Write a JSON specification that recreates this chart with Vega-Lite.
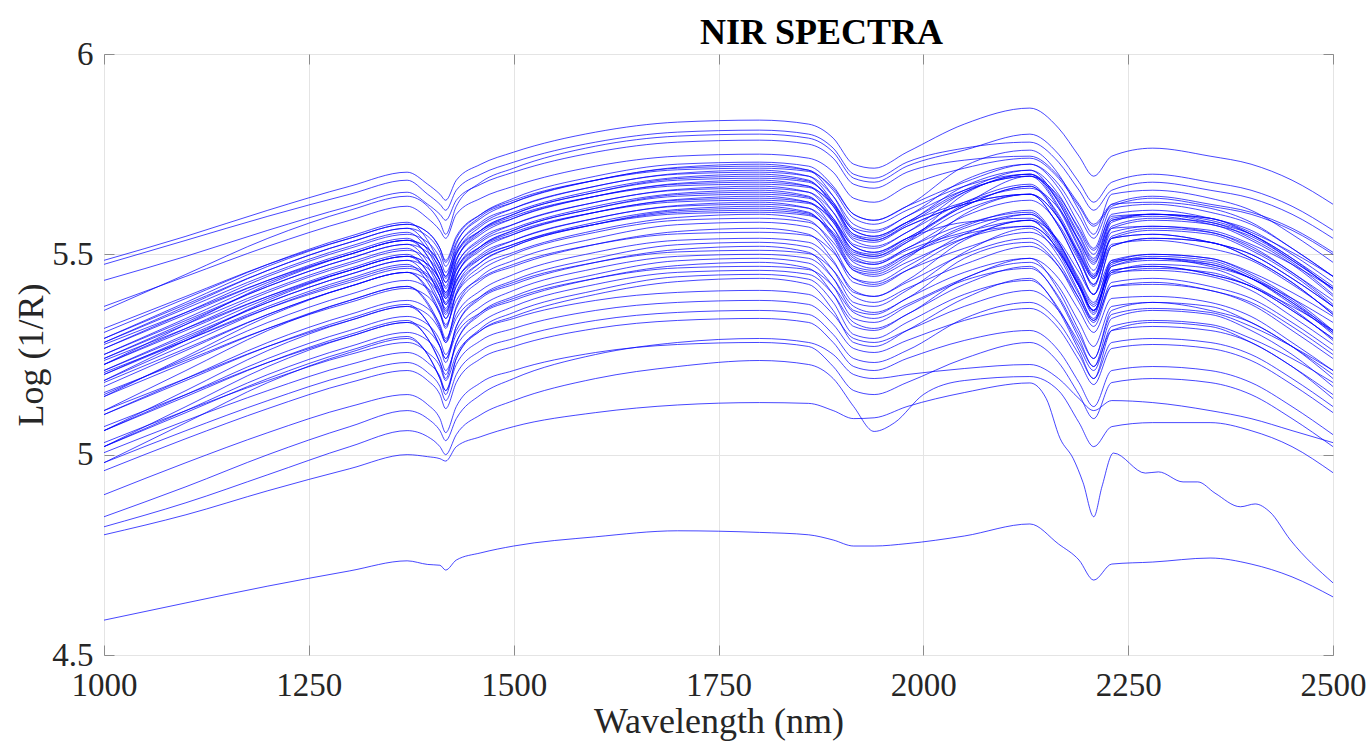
{
"$schema": "https://vega.github.io/schema/vega-lite/v6.json",
"width": 1229, "height": 601,
"autosize": {"type": "none"},
"padding": {"left": 104, "top": 54, "right": 37, "bottom": 90},
"background": "white",
"title": {"text": "NIR SPECTRA", "font": "Liberation Serif", "fontSize": 36, "fontWeight": "bold", "color": "#000000", "anchor": "middle", "frame": "group", "dx": 103, "baseline": "alphabetic", "offset": -42},
"datasets": {"spectra": [
{"s":1,"w":1000,"v":5.485},{"s":1,"w":1100,"v":5.545},{"s":1,"w":1200,"v":5.61},{"s":1,"w":1300,"v":5.67},{"s":1,"w":1370,"v":5.705},{"s":1,"w":1395,"v":5.675},{"s":1,"w":1410,"v":5.65},{"s":1,"w":1417,"v":5.635},{"s":1,"w":1430,"v":5.685},{"s":1,"w":1460,"v":5.725},{"s":1,"w":1500,"v":5.755},{"s":1,"w":1600,"v":5.805},{"s":1,"w":1700,"v":5.83},{"s":1,"w":1800,"v":5.835},{"s":1,"w":1860,"v":5.825},{"s":1,"w":1890,"v":5.79},{"s":1,"w":1915,"v":5.725},{"s":1,"w":1940,"v":5.715},{"s":1,"w":1980,"v":5.755},{"s":1,"w":2050,"v":5.825},{"s":1,"w":2130,"v":5.865},{"s":1,"w":2165,"v":5.815},{"s":1,"w":2190,"v":5.745},{"s":1,"w":2208,"v":5.695},{"s":1,"w":2230,"v":5.745},{"s":1,"w":2280,"v":5.765},{"s":1,"w":2350,"v":5.745},{"s":1,"w":2400,"v":5.725},{"s":1,"w":2450,"v":5.685},{"s":1,"w":2500,"v":5.625},
{"s":2,"w":1000,"v":5.475},{"s":2,"w":1100,"v":5.535},{"s":2,"w":1200,"v":5.595},{"s":2,"w":1300,"v":5.65},{"s":2,"w":1370,"v":5.685},{"s":2,"w":1395,"v":5.65},{"s":2,"w":1410,"v":5.625},{"s":2,"w":1417,"v":5.61},{"s":2,"w":1430,"v":5.66},{"s":2,"w":1460,"v":5.7},{"s":2,"w":1500,"v":5.73},{"s":2,"w":1600,"v":5.78},{"s":2,"w":1700,"v":5.805},{"s":2,"w":1800,"v":5.81},{"s":2,"w":1860,"v":5.8},{"s":2,"w":1890,"v":5.765},{"s":2,"w":1915,"v":5.7},{"s":2,"w":1940,"v":5.69},{"s":2,"w":1980,"v":5.73},{"s":2,"w":2050,"v":5.765},{"s":2,"w":2130,"v":5.78},{"s":2,"w":2165,"v":5.73},{"s":2,"w":2190,"v":5.66},{"s":2,"w":2208,"v":5.61},{"s":2,"w":2230,"v":5.66},{"s":2,"w":2280,"v":5.68},{"s":2,"w":2350,"v":5.66},{"s":2,"w":2400,"v":5.64},{"s":2,"w":2450,"v":5.6},{"s":2,"w":2500,"v":5.54},
{"s":3,"w":1000,"v":5.36},{"s":3,"w":1100,"v":5.45},{"s":3,"w":1200,"v":5.54},{"s":3,"w":1300,"v":5.61},{"s":3,"w":1370,"v":5.645},{"s":3,"w":1395,"v":5.62},{"s":3,"w":1410,"v":5.58},{"s":3,"w":1417,"v":5.55},{"s":3,"w":1430,"v":5.62},{"s":3,"w":1460,"v":5.68},{"s":3,"w":1500,"v":5.715},{"s":3,"w":1600,"v":5.77},{"s":3,"w":1700,"v":5.795},{"s":3,"w":1800,"v":5.8},{"s":3,"w":1860,"v":5.79},{"s":3,"w":1890,"v":5.755},{"s":3,"w":1915,"v":5.69},{"s":3,"w":1940,"v":5.68},{"s":3,"w":1980,"v":5.72},{"s":3,"w":2050,"v":5.76},{"s":3,"w":2130,"v":5.8},{"s":3,"w":2165,"v":5.75},{"s":3,"w":2190,"v":5.68},{"s":3,"w":2208,"v":5.63},{"s":3,"w":2230,"v":5.68},{"s":3,"w":2280,"v":5.7},{"s":3,"w":2350,"v":5.68},{"s":3,"w":2400,"v":5.66},{"s":3,"w":2450,"v":5.62},{"s":3,"w":2500,"v":5.56},
{"s":4,"w":1000,"v":5.435},{"s":4,"w":1100,"v":5.495},{"s":4,"w":1200,"v":5.56},{"s":4,"w":1300,"v":5.62},{"s":4,"w":1370,"v":5.655},{"s":4,"w":1395,"v":5.625},{"s":4,"w":1410,"v":5.6},{"s":4,"w":1417,"v":5.585},{"s":4,"w":1430,"v":5.635},{"s":4,"w":1460,"v":5.675},{"s":4,"w":1500,"v":5.705},{"s":4,"w":1600,"v":5.755},{"s":4,"w":1700,"v":5.78},{"s":4,"w":1800,"v":5.785},{"s":4,"w":1860,"v":5.775},{"s":4,"w":1890,"v":5.74},{"s":4,"w":1915,"v":5.675},{"s":4,"w":1940,"v":5.665},{"s":4,"w":1980,"v":5.705},{"s":4,"w":2050,"v":5.735},{"s":4,"w":2130,"v":5.745},{"s":4,"w":2165,"v":5.695},{"s":4,"w":2190,"v":5.625},{"s":4,"w":2208,"v":5.575},{"s":4,"w":2230,"v":5.625},{"s":4,"w":2280,"v":5.645},{"s":4,"w":2350,"v":5.625},{"s":4,"w":2400,"v":5.605},{"s":4,"w":2450,"v":5.565},{"s":4,"w":2500,"v":5.505},
{"s":5,"w":1000,"v":5.37},{"s":5,"w":1100,"v":5.445},{"s":5,"w":1200,"v":5.52},{"s":5,"w":1300,"v":5.585},{"s":5,"w":1370,"v":5.62},{"s":5,"w":1395,"v":5.59},{"s":5,"w":1410,"v":5.56},{"s":5,"w":1417,"v":5.54},{"s":5,"w":1430,"v":5.6},{"s":5,"w":1460,"v":5.64},{"s":5,"w":1500,"v":5.67},{"s":5,"w":1600,"v":5.72},{"s":5,"w":1700,"v":5.745},{"s":5,"w":1800,"v":5.75},{"s":5,"w":1860,"v":5.74},{"s":5,"w":1890,"v":5.705},{"s":5,"w":1915,"v":5.64},{"s":5,"w":1940,"v":5.63},{"s":5,"w":1980,"v":5.67},{"s":5,"w":2050,"v":5.715},{"s":5,"w":2130,"v":5.74},{"s":5,"w":2165,"v":5.69},{"s":5,"w":2190,"v":5.62},{"s":5,"w":2208,"v":5.57},{"s":5,"w":2230,"v":5.62},{"s":5,"w":2280,"v":5.64},{"s":5,"w":2350,"v":5.62},{"s":5,"w":2400,"v":5.6},{"s":5,"w":2450,"v":5.56},{"s":5,"w":2500,"v":5.5},
{"s":6,"w":1000,"v":5.29},{"s":6,"w":1100,"v":5.38},{"s":6,"w":1200,"v":5.47},{"s":6,"w":1300,"v":5.54},{"s":6,"w":1370,"v":5.575},{"s":6,"w":1395,"v":5.555},{"s":6,"w":1410,"v":5.515},{"s":6,"w":1417,"v":5.48},{"s":6,"w":1430,"v":5.54},{"s":6,"w":1460,"v":5.6},{"s":6,"w":1500,"v":5.64},{"s":6,"w":1600,"v":5.695},{"s":6,"w":1700,"v":5.725},{"s":6,"w":1800,"v":5.73},{"s":6,"w":1860,"v":5.72},{"s":6,"w":1890,"v":5.67},{"s":6,"w":1915,"v":5.6},{"s":6,"w":1940,"v":5.585},{"s":6,"w":1980,"v":5.62},{"s":6,"w":2050,"v":5.72},{"s":6,"w":2130,"v":5.76},{"s":6,"w":2165,"v":5.7},{"s":6,"w":2190,"v":5.61},{"s":6,"w":2208,"v":5.55},{"s":6,"w":2230,"v":5.65},{"s":6,"w":2280,"v":5.66},{"s":6,"w":2350,"v":5.64},{"s":6,"w":2400,"v":5.61},{"s":6,"w":2450,"v":5.55},{"s":6,"w":2500,"v":5.48},
{"s":7,"w":1000,"v":5.305},{"s":7,"w":1100,"v":5.39},{"s":7,"w":1200,"v":5.475},{"s":7,"w":1300,"v":5.545},{"s":7,"w":1370,"v":5.58},{"s":7,"w":1395,"v":5.535},{"s":7,"w":1410,"v":5.475},{"s":7,"w":1417,"v":5.445},{"s":7,"w":1430,"v":5.525},{"s":7,"w":1460,"v":5.595},{"s":7,"w":1500,"v":5.63},{"s":7,"w":1600,"v":5.685},{"s":7,"w":1700,"v":5.717},{"s":7,"w":1800,"v":5.725},{"s":7,"w":1860,"v":5.71},{"s":7,"w":1890,"v":5.645},{"s":7,"w":1915,"v":5.565},{"s":7,"w":1940,"v":5.555},{"s":7,"w":1980,"v":5.595},{"s":7,"w":2050,"v":5.66},{"s":7,"w":2130,"v":5.695},{"s":7,"w":2165,"v":5.615},{"s":7,"w":2190,"v":5.515},{"s":7,"w":2208,"v":5.445},{"s":7,"w":2230,"v":5.565},{"s":7,"w":2280,"v":5.585},{"s":7,"w":2350,"v":5.575},{"s":7,"w":2400,"v":5.535},{"s":7,"w":2450,"v":5.475},{"s":7,"w":2500,"v":5.395},
{"s":8,"w":1000,"v":5.28},{"s":8,"w":1100,"v":5.37},{"s":8,"w":1200,"v":5.46},{"s":8,"w":1300,"v":5.53},{"s":8,"w":1370,"v":5.565},{"s":8,"w":1395,"v":5.545},{"s":8,"w":1410,"v":5.505},{"s":8,"w":1417,"v":5.47},{"s":8,"w":1430,"v":5.53},{"s":8,"w":1460,"v":5.59},{"s":8,"w":1500,"v":5.63},{"s":8,"w":1600,"v":5.685},{"s":8,"w":1700,"v":5.715},{"s":8,"w":1800,"v":5.72},{"s":8,"w":1860,"v":5.71},{"s":8,"w":1890,"v":5.66},{"s":8,"w":1915,"v":5.59},{"s":8,"w":1940,"v":5.575},{"s":8,"w":1980,"v":5.61},{"s":8,"w":2050,"v":5.67},{"s":8,"w":2130,"v":5.7},{"s":8,"w":2165,"v":5.64},{"s":8,"w":2190,"v":5.55},{"s":8,"w":2208,"v":5.49},{"s":8,"w":2230,"v":5.59},{"s":8,"w":2280,"v":5.6},{"s":8,"w":2350,"v":5.58},{"s":8,"w":2400,"v":5.55},{"s":8,"w":2450,"v":5.49},{"s":8,"w":2500,"v":5.42},
{"s":9,"w":1000,"v":5.29},{"s":9,"w":1100,"v":5.375},{"s":9,"w":1200,"v":5.46},{"s":9,"w":1300,"v":5.53},{"s":9,"w":1370,"v":5.565},{"s":9,"w":1395,"v":5.52},{"s":9,"w":1410,"v":5.46},{"s":9,"w":1417,"v":5.43},{"s":9,"w":1430,"v":5.51},{"s":9,"w":1460,"v":5.58},{"s":9,"w":1500,"v":5.615},{"s":9,"w":1600,"v":5.67},{"s":9,"w":1700,"v":5.702},{"s":9,"w":1800,"v":5.71},{"s":9,"w":1860,"v":5.695},{"s":9,"w":1890,"v":5.63},{"s":9,"w":1915,"v":5.55},{"s":9,"w":1940,"v":5.54},{"s":9,"w":1980,"v":5.58},{"s":9,"w":2050,"v":5.66},{"s":9,"w":2130,"v":5.71},{"s":9,"w":2165,"v":5.63},{"s":9,"w":2190,"v":5.53},{"s":9,"w":2208,"v":5.46},{"s":9,"w":2230,"v":5.58},{"s":9,"w":2280,"v":5.6},{"s":9,"w":2350,"v":5.59},{"s":9,"w":2400,"v":5.55},{"s":9,"w":2450,"v":5.49},{"s":9,"w":2500,"v":5.41},
{"s":10,"w":1000,"v":5.265},{"s":10,"w":1100,"v":5.355},{"s":10,"w":1200,"v":5.445},{"s":10,"w":1300,"v":5.515},{"s":10,"w":1370,"v":5.55},{"s":10,"w":1395,"v":5.53},{"s":10,"w":1410,"v":5.49},{"s":10,"w":1417,"v":5.455},{"s":10,"w":1430,"v":5.515},{"s":10,"w":1460,"v":5.575},{"s":10,"w":1500,"v":5.615},{"s":10,"w":1600,"v":5.67},{"s":10,"w":1700,"v":5.7},{"s":10,"w":1800,"v":5.705},{"s":10,"w":1860,"v":5.695},{"s":10,"w":1890,"v":5.645},{"s":10,"w":1915,"v":5.575},{"s":10,"w":1940,"v":5.56},{"s":10,"w":1980,"v":5.595},{"s":10,"w":2050,"v":5.685},{"s":10,"w":2130,"v":5.725},{"s":10,"w":2165,"v":5.665},{"s":10,"w":2190,"v":5.575},{"s":10,"w":2208,"v":5.515},{"s":10,"w":2230,"v":5.615},{"s":10,"w":2280,"v":5.625},{"s":10,"w":2350,"v":5.605},{"s":10,"w":2400,"v":5.575},{"s":10,"w":2450,"v":5.515},{"s":10,"w":2500,"v":5.445},
{"s":11,"w":1000,"v":5.28},{"s":11,"w":1100,"v":5.365},{"s":11,"w":1200,"v":5.45},{"s":11,"w":1300,"v":5.52},{"s":11,"w":1370,"v":5.555},{"s":11,"w":1395,"v":5.51},{"s":11,"w":1410,"v":5.45},{"s":11,"w":1417,"v":5.42},{"s":11,"w":1430,"v":5.5},{"s":11,"w":1460,"v":5.57},{"s":11,"w":1500,"v":5.605},{"s":11,"w":1600,"v":5.66},{"s":11,"w":1700,"v":5.692},{"s":11,"w":1800,"v":5.7},{"s":11,"w":1860,"v":5.685},{"s":11,"w":1890,"v":5.62},{"s":11,"w":1915,"v":5.54},{"s":11,"w":1940,"v":5.53},{"s":11,"w":1980,"v":5.57},{"s":11,"w":2050,"v":5.625},{"s":11,"w":2130,"v":5.65},{"s":11,"w":2165,"v":5.57},{"s":11,"w":2190,"v":5.47},{"s":11,"w":2208,"v":5.4},{"s":11,"w":2230,"v":5.52},{"s":11,"w":2280,"v":5.54},{"s":11,"w":2350,"v":5.53},{"s":11,"w":2400,"v":5.49},{"s":11,"w":2450,"v":5.43},{"s":11,"w":2500,"v":5.35},
{"s":12,"w":1000,"v":5.25},{"s":12,"w":1100,"v":5.34},{"s":12,"w":1200,"v":5.43},{"s":12,"w":1300,"v":5.5},{"s":12,"w":1370,"v":5.535},{"s":12,"w":1395,"v":5.515},{"s":12,"w":1410,"v":5.475},{"s":12,"w":1417,"v":5.44},{"s":12,"w":1430,"v":5.5},{"s":12,"w":1460,"v":5.56},{"s":12,"w":1500,"v":5.6},{"s":12,"w":1600,"v":5.655},{"s":12,"w":1700,"v":5.685},{"s":12,"w":1800,"v":5.69},{"s":12,"w":1860,"v":5.68},{"s":12,"w":1890,"v":5.63},{"s":12,"w":1915,"v":5.56},{"s":12,"w":1940,"v":5.545},{"s":12,"w":1980,"v":5.58},{"s":12,"w":2050,"v":5.67},{"s":12,"w":2130,"v":5.71},{"s":12,"w":2165,"v":5.65},{"s":12,"w":2190,"v":5.56},{"s":12,"w":2208,"v":5.5},{"s":12,"w":2230,"v":5.6},{"s":12,"w":2280,"v":5.61},{"s":12,"w":2350,"v":5.59},{"s":12,"w":2400,"v":5.56},{"s":12,"w":2450,"v":5.5},{"s":12,"w":2500,"v":5.43},
{"s":13,"w":1000,"v":5.265},{"s":13,"w":1100,"v":5.35},{"s":13,"w":1200,"v":5.435},{"s":13,"w":1300,"v":5.505},{"s":13,"w":1370,"v":5.54},{"s":13,"w":1395,"v":5.495},{"s":13,"w":1410,"v":5.435},{"s":13,"w":1417,"v":5.405},{"s":13,"w":1430,"v":5.485},{"s":13,"w":1460,"v":5.555},{"s":13,"w":1500,"v":5.59},{"s":13,"w":1600,"v":5.645},{"s":13,"w":1700,"v":5.677},{"s":13,"w":1800,"v":5.685},{"s":13,"w":1860,"v":5.67},{"s":13,"w":1890,"v":5.605},{"s":13,"w":1915,"v":5.525},{"s":13,"w":1940,"v":5.515},{"s":13,"w":1980,"v":5.555},{"s":13,"w":2050,"v":5.63},{"s":13,"w":2130,"v":5.675},{"s":13,"w":2165,"v":5.595},{"s":13,"w":2190,"v":5.495},{"s":13,"w":2208,"v":5.425},{"s":13,"w":2230,"v":5.545},{"s":13,"w":2280,"v":5.565},{"s":13,"w":2350,"v":5.555},{"s":13,"w":2400,"v":5.515},{"s":13,"w":2450,"v":5.455},{"s":13,"w":2500,"v":5.375},
{"s":14,"w":1000,"v":5.24},{"s":14,"w":1100,"v":5.33},{"s":14,"w":1200,"v":5.42},{"s":14,"w":1300,"v":5.49},{"s":14,"w":1370,"v":5.525},{"s":14,"w":1395,"v":5.505},{"s":14,"w":1410,"v":5.465},{"s":14,"w":1417,"v":5.43},{"s":14,"w":1430,"v":5.49},{"s":14,"w":1460,"v":5.55},{"s":14,"w":1500,"v":5.59},{"s":14,"w":1600,"v":5.645},{"s":14,"w":1700,"v":5.675},{"s":14,"w":1800,"v":5.68},{"s":14,"w":1860,"v":5.67},{"s":14,"w":1890,"v":5.62},{"s":14,"w":1915,"v":5.55},{"s":14,"w":1940,"v":5.535},{"s":14,"w":1980,"v":5.57},{"s":14,"w":2050,"v":5.625},{"s":14,"w":2130,"v":5.65},{"s":14,"w":2165,"v":5.59},{"s":14,"w":2190,"v":5.5},{"s":14,"w":2208,"v":5.44},{"s":14,"w":2230,"v":5.54},{"s":14,"w":2280,"v":5.55},{"s":14,"w":2350,"v":5.53},{"s":14,"w":2400,"v":5.5},{"s":14,"w":2450,"v":5.44},{"s":14,"w":2500,"v":5.37},
{"s":15,"w":1000,"v":5.25},{"s":15,"w":1100,"v":5.335},{"s":15,"w":1200,"v":5.42},{"s":15,"w":1300,"v":5.49},{"s":15,"w":1370,"v":5.525},{"s":15,"w":1395,"v":5.48},{"s":15,"w":1410,"v":5.42},{"s":15,"w":1417,"v":5.39},{"s":15,"w":1430,"v":5.47},{"s":15,"w":1460,"v":5.54},{"s":15,"w":1500,"v":5.575},{"s":15,"w":1600,"v":5.63},{"s":15,"w":1700,"v":5.662},{"s":15,"w":1800,"v":5.67},{"s":15,"w":1860,"v":5.655},{"s":15,"w":1890,"v":5.59},{"s":15,"w":1915,"v":5.51},{"s":15,"w":1940,"v":5.5},{"s":15,"w":1980,"v":5.54},{"s":15,"w":2050,"v":5.62},{"s":15,"w":2130,"v":5.67},{"s":15,"w":2165,"v":5.59},{"s":15,"w":2190,"v":5.49},{"s":15,"w":2208,"v":5.42},{"s":15,"w":2230,"v":5.54},{"s":15,"w":2280,"v":5.56},{"s":15,"w":2350,"v":5.55},{"s":15,"w":2400,"v":5.51},{"s":15,"w":2450,"v":5.45},{"s":15,"w":2500,"v":5.37},
{"s":16,"w":1000,"v":5.225},{"s":16,"w":1100,"v":5.315},{"s":16,"w":1200,"v":5.405},{"s":16,"w":1300,"v":5.475},{"s":16,"w":1370,"v":5.51},{"s":16,"w":1395,"v":5.49},{"s":16,"w":1410,"v":5.45},{"s":16,"w":1417,"v":5.415},{"s":16,"w":1430,"v":5.475},{"s":16,"w":1460,"v":5.535},{"s":16,"w":1500,"v":5.575},{"s":16,"w":1600,"v":5.63},{"s":16,"w":1700,"v":5.66},{"s":16,"w":1800,"v":5.665},{"s":16,"w":1860,"v":5.655},{"s":16,"w":1890,"v":5.605},{"s":16,"w":1915,"v":5.535},{"s":16,"w":1940,"v":5.52},{"s":16,"w":1980,"v":5.555},{"s":16,"w":2050,"v":5.655},{"s":16,"w":2130,"v":5.695},{"s":16,"w":2165,"v":5.635},{"s":16,"w":2190,"v":5.545},{"s":16,"w":2208,"v":5.485},{"s":16,"w":2230,"v":5.585},{"s":16,"w":2280,"v":5.595},{"s":16,"w":2350,"v":5.575},{"s":16,"w":2400,"v":5.545},{"s":16,"w":2450,"v":5.485},{"s":16,"w":2500,"v":5.415},
{"s":17,"w":1000,"v":5.24},{"s":17,"w":1100,"v":5.325},{"s":17,"w":1200,"v":5.41},{"s":17,"w":1300,"v":5.48},{"s":17,"w":1370,"v":5.515},{"s":17,"w":1395,"v":5.47},{"s":17,"w":1410,"v":5.41},{"s":17,"w":1417,"v":5.38},{"s":17,"w":1430,"v":5.46},{"s":17,"w":1460,"v":5.53},{"s":17,"w":1500,"v":5.565},{"s":17,"w":1600,"v":5.62},{"s":17,"w":1700,"v":5.652},{"s":17,"w":1800,"v":5.66},{"s":17,"w":1860,"v":5.645},{"s":17,"w":1890,"v":5.58},{"s":17,"w":1915,"v":5.5},{"s":17,"w":1940,"v":5.49},{"s":17,"w":1980,"v":5.53},{"s":17,"w":2050,"v":5.65},{"s":17,"w":2130,"v":5.7},{"s":17,"w":2165,"v":5.62},{"s":17,"w":2190,"v":5.52},{"s":17,"w":2208,"v":5.45},{"s":17,"w":2230,"v":5.57},{"s":17,"w":2280,"v":5.59},{"s":17,"w":2350,"v":5.58},{"s":17,"w":2400,"v":5.54},{"s":17,"w":2450,"v":5.48},{"s":17,"w":2500,"v":5.4},
{"s":18,"w":1000,"v":5.21},{"s":18,"w":1100,"v":5.3},{"s":18,"w":1200,"v":5.39},{"s":18,"w":1300,"v":5.46},{"s":18,"w":1370,"v":5.495},{"s":18,"w":1395,"v":5.475},{"s":18,"w":1410,"v":5.435},{"s":18,"w":1417,"v":5.4},{"s":18,"w":1430,"v":5.46},{"s":18,"w":1460,"v":5.52},{"s":18,"w":1500,"v":5.56},{"s":18,"w":1600,"v":5.615},{"s":18,"w":1700,"v":5.645},{"s":18,"w":1800,"v":5.65},{"s":18,"w":1860,"v":5.64},{"s":18,"w":1890,"v":5.59},{"s":18,"w":1915,"v":5.52},{"s":18,"w":1940,"v":5.505},{"s":18,"w":1980,"v":5.54},{"s":18,"w":2050,"v":5.58},{"s":18,"w":2130,"v":5.59},{"s":18,"w":2165,"v":5.53},{"s":18,"w":2190,"v":5.44},{"s":18,"w":2208,"v":5.38},{"s":18,"w":2230,"v":5.48},{"s":18,"w":2280,"v":5.49},{"s":18,"w":2350,"v":5.47},{"s":18,"w":2400,"v":5.44},{"s":18,"w":2450,"v":5.38},{"s":18,"w":2500,"v":5.31},
{"s":19,"w":1000,"v":5.225},{"s":19,"w":1100,"v":5.31},{"s":19,"w":1200,"v":5.395},{"s":19,"w":1300,"v":5.465},{"s":19,"w":1370,"v":5.5},{"s":19,"w":1395,"v":5.455},{"s":19,"w":1410,"v":5.395},{"s":19,"w":1417,"v":5.365},{"s":19,"w":1430,"v":5.445},{"s":19,"w":1460,"v":5.515},{"s":19,"w":1500,"v":5.55},{"s":19,"w":1600,"v":5.605},{"s":19,"w":1700,"v":5.637},{"s":19,"w":1800,"v":5.645},{"s":19,"w":1860,"v":5.63},{"s":19,"w":1890,"v":5.565},{"s":19,"w":1915,"v":5.485},{"s":19,"w":1940,"v":5.475},{"s":19,"w":1980,"v":5.515},{"s":19,"w":2050,"v":5.575},{"s":19,"w":2130,"v":5.605},{"s":19,"w":2165,"v":5.525},{"s":19,"w":2190,"v":5.425},{"s":19,"w":2208,"v":5.355},{"s":19,"w":2230,"v":5.475},{"s":19,"w":2280,"v":5.495},{"s":19,"w":2350,"v":5.485},{"s":19,"w":2400,"v":5.445},{"s":19,"w":2450,"v":5.385},{"s":19,"w":2500,"v":5.305},
{"s":20,"w":1000,"v":5.2},{"s":20,"w":1100,"v":5.29},{"s":20,"w":1200,"v":5.38},{"s":20,"w":1300,"v":5.45},{"s":20,"w":1370,"v":5.485},{"s":20,"w":1395,"v":5.465},{"s":20,"w":1410,"v":5.425},{"s":20,"w":1417,"v":5.39},{"s":20,"w":1430,"v":5.45},{"s":20,"w":1460,"v":5.51},{"s":20,"w":1500,"v":5.55},{"s":20,"w":1600,"v":5.605},{"s":20,"w":1700,"v":5.635},{"s":20,"w":1800,"v":5.64},{"s":20,"w":1860,"v":5.63},{"s":20,"w":1890,"v":5.58},{"s":20,"w":1915,"v":5.51},{"s":20,"w":1940,"v":5.495},{"s":20,"w":1980,"v":5.53},{"s":20,"w":2050,"v":5.61},{"s":20,"w":2130,"v":5.65},{"s":20,"w":2165,"v":5.59},{"s":20,"w":2190,"v":5.5},{"s":20,"w":2208,"v":5.44},{"s":20,"w":2230,"v":5.54},{"s":20,"w":2280,"v":5.55},{"s":20,"w":2350,"v":5.53},{"s":20,"w":2400,"v":5.5},{"s":20,"w":2450,"v":5.44},{"s":20,"w":2500,"v":5.37},
{"s":21,"w":1000,"v":5.21},{"s":21,"w":1100,"v":5.295},{"s":21,"w":1200,"v":5.38},{"s":21,"w":1300,"v":5.45},{"s":21,"w":1370,"v":5.485},{"s":21,"w":1395,"v":5.44},{"s":21,"w":1410,"v":5.38},{"s":21,"w":1417,"v":5.35},{"s":21,"w":1430,"v":5.43},{"s":21,"w":1460,"v":5.5},{"s":21,"w":1500,"v":5.535},{"s":21,"w":1600,"v":5.59},{"s":21,"w":1700,"v":5.622},{"s":21,"w":1800,"v":5.63},{"s":21,"w":1860,"v":5.615},{"s":21,"w":1890,"v":5.55},{"s":21,"w":1915,"v":5.47},{"s":21,"w":1940,"v":5.46},{"s":21,"w":1980,"v":5.5},{"s":21,"w":2050,"v":5.57},{"s":21,"w":2130,"v":5.61},{"s":21,"w":2165,"v":5.53},{"s":21,"w":2190,"v":5.43},{"s":21,"w":2208,"v":5.36},{"s":21,"w":2230,"v":5.48},{"s":21,"w":2280,"v":5.5},{"s":21,"w":2350,"v":5.49},{"s":21,"w":2400,"v":5.45},{"s":21,"w":2450,"v":5.39},{"s":21,"w":2500,"v":5.31},
{"s":22,"w":1000,"v":5.185},{"s":22,"w":1100,"v":5.275},{"s":22,"w":1200,"v":5.365},{"s":22,"w":1300,"v":5.435},{"s":22,"w":1370,"v":5.47},{"s":22,"w":1395,"v":5.45},{"s":22,"w":1410,"v":5.41},{"s":22,"w":1417,"v":5.375},{"s":22,"w":1430,"v":5.435},{"s":22,"w":1460,"v":5.495},{"s":22,"w":1500,"v":5.535},{"s":22,"w":1600,"v":5.59},{"s":22,"w":1700,"v":5.62},{"s":22,"w":1800,"v":5.625},{"s":22,"w":1860,"v":5.615},{"s":22,"w":1890,"v":5.565},{"s":22,"w":1915,"v":5.495},{"s":22,"w":1940,"v":5.48},{"s":22,"w":1980,"v":5.515},{"s":22,"w":2050,"v":5.595},{"s":22,"w":2130,"v":5.635},{"s":22,"w":2165,"v":5.575},{"s":22,"w":2190,"v":5.485},{"s":22,"w":2208,"v":5.425},{"s":22,"w":2230,"v":5.525},{"s":22,"w":2280,"v":5.535},{"s":22,"w":2350,"v":5.515},{"s":22,"w":2400,"v":5.485},{"s":22,"w":2450,"v":5.425},{"s":22,"w":2500,"v":5.355},
{"s":23,"w":1000,"v":5.2},{"s":23,"w":1100,"v":5.285},{"s":23,"w":1200,"v":5.37},{"s":23,"w":1300,"v":5.44},{"s":23,"w":1370,"v":5.475},{"s":23,"w":1395,"v":5.43},{"s":23,"w":1410,"v":5.37},{"s":23,"w":1417,"v":5.34},{"s":23,"w":1430,"v":5.42},{"s":23,"w":1460,"v":5.49},{"s":23,"w":1500,"v":5.525},{"s":23,"w":1600,"v":5.58},{"s":23,"w":1700,"v":5.612},{"s":23,"w":1800,"v":5.62},{"s":23,"w":1860,"v":5.605},{"s":23,"w":1890,"v":5.54},{"s":23,"w":1915,"v":5.46},{"s":23,"w":1940,"v":5.45},{"s":23,"w":1980,"v":5.49},{"s":23,"w":2050,"v":5.6},{"s":23,"w":2130,"v":5.65},{"s":23,"w":2165,"v":5.57},{"s":23,"w":2190,"v":5.47},{"s":23,"w":2208,"v":5.4},{"s":23,"w":2230,"v":5.52},{"s":23,"w":2280,"v":5.54},{"s":23,"w":2350,"v":5.53},{"s":23,"w":2400,"v":5.49},{"s":23,"w":2450,"v":5.43},{"s":23,"w":2500,"v":5.35},
{"s":24,"w":1000,"v":5.17},{"s":24,"w":1100,"v":5.26},{"s":24,"w":1200,"v":5.35},{"s":24,"w":1300,"v":5.42},{"s":24,"w":1370,"v":5.455},{"s":24,"w":1395,"v":5.435},{"s":24,"w":1410,"v":5.395},{"s":24,"w":1417,"v":5.36},{"s":24,"w":1430,"v":5.42},{"s":24,"w":1460,"v":5.48},{"s":24,"w":1500,"v":5.52},{"s":24,"w":1600,"v":5.575},{"s":24,"w":1700,"v":5.605},{"s":24,"w":1800,"v":5.61},{"s":24,"w":1860,"v":5.6},{"s":24,"w":1890,"v":5.55},{"s":24,"w":1915,"v":5.48},{"s":24,"w":1940,"v":5.465},{"s":24,"w":1980,"v":5.5},{"s":24,"w":2050,"v":5.55},{"s":24,"w":2130,"v":5.57},{"s":24,"w":2165,"v":5.51},{"s":24,"w":2190,"v":5.42},{"s":24,"w":2208,"v":5.36},{"s":24,"w":2230,"v":5.46},{"s":24,"w":2280,"v":5.47},{"s":24,"w":2350,"v":5.45},{"s":24,"w":2400,"v":5.42},{"s":24,"w":2450,"v":5.36},{"s":24,"w":2500,"v":5.29},
{"s":25,"w":1000,"v":5.18},{"s":25,"w":1100,"v":5.265},{"s":25,"w":1200,"v":5.35},{"s":25,"w":1300,"v":5.42},{"s":25,"w":1370,"v":5.455},{"s":25,"w":1395,"v":5.41},{"s":25,"w":1410,"v":5.35},{"s":25,"w":1417,"v":5.32},{"s":25,"w":1430,"v":5.4},{"s":25,"w":1460,"v":5.47},{"s":25,"w":1500,"v":5.505},{"s":25,"w":1600,"v":5.56},{"s":25,"w":1700,"v":5.592},{"s":25,"w":1800,"v":5.6},{"s":25,"w":1860,"v":5.585},{"s":25,"w":1890,"v":5.52},{"s":25,"w":1915,"v":5.44},{"s":25,"w":1940,"v":5.43},{"s":25,"w":1980,"v":5.47},{"s":25,"w":2050,"v":5.55},{"s":25,"w":2130,"v":5.6},{"s":25,"w":2165,"v":5.52},{"s":25,"w":2190,"v":5.42},{"s":25,"w":2208,"v":5.35},{"s":25,"w":2230,"v":5.47},{"s":25,"w":2280,"v":5.49},{"s":25,"w":2350,"v":5.48},{"s":25,"w":2400,"v":5.44},{"s":25,"w":2450,"v":5.38},{"s":25,"w":2500,"v":5.3},
{"s":26,"w":1000,"v":5.15},{"s":26,"w":1100,"v":5.24},{"s":26,"w":1200,"v":5.33},{"s":26,"w":1300,"v":5.4},{"s":26,"w":1370,"v":5.435},{"s":26,"w":1395,"v":5.415},{"s":26,"w":1410,"v":5.375},{"s":26,"w":1417,"v":5.34},{"s":26,"w":1430,"v":5.4},{"s":26,"w":1460,"v":5.46},{"s":26,"w":1500,"v":5.5},{"s":26,"w":1600,"v":5.555},{"s":26,"w":1700,"v":5.585},{"s":26,"w":1800,"v":5.59},{"s":26,"w":1860,"v":5.58},{"s":26,"w":1890,"v":5.53},{"s":26,"w":1915,"v":5.46},{"s":26,"w":1940,"v":5.445},{"s":26,"w":1980,"v":5.48},{"s":26,"w":2050,"v":5.54},{"s":26,"w":2130,"v":5.57},{"s":26,"w":2165,"v":5.51},{"s":26,"w":2190,"v":5.42},{"s":26,"w":2208,"v":5.36},{"s":26,"w":2230,"v":5.46},{"s":26,"w":2280,"v":5.47},{"s":26,"w":2350,"v":5.45},{"s":26,"w":2400,"v":5.42},{"s":26,"w":2450,"v":5.36},{"s":26,"w":2500,"v":5.29},
{"s":27,"w":1000,"v":5.145},{"s":27,"w":1100,"v":5.23},{"s":27,"w":1200,"v":5.315},{"s":27,"w":1300,"v":5.385},{"s":27,"w":1370,"v":5.42},{"s":27,"w":1395,"v":5.375},{"s":27,"w":1410,"v":5.315},{"s":27,"w":1417,"v":5.285},{"s":27,"w":1430,"v":5.365},{"s":27,"w":1460,"v":5.435},{"s":27,"w":1500,"v":5.47},{"s":27,"w":1600,"v":5.525},{"s":27,"w":1700,"v":5.557},{"s":27,"w":1800,"v":5.565},{"s":27,"w":1860,"v":5.55},{"s":27,"w":1890,"v":5.485},{"s":27,"w":1915,"v":5.405},{"s":27,"w":1940,"v":5.395},{"s":27,"w":1980,"v":5.435},{"s":27,"w":2050,"v":5.535},{"s":27,"w":2130,"v":5.585},{"s":27,"w":2165,"v":5.505},{"s":27,"w":2190,"v":5.405},{"s":27,"w":2208,"v":5.335},{"s":27,"w":2230,"v":5.455},{"s":27,"w":2280,"v":5.475},{"s":27,"w":2350,"v":5.465},{"s":27,"w":2400,"v":5.425},{"s":27,"w":2450,"v":5.365},{"s":27,"w":2500,"v":5.285},
{"s":28,"w":1000,"v":5.1},{"s":28,"w":1100,"v":5.19},{"s":28,"w":1200,"v":5.28},{"s":28,"w":1300,"v":5.35},{"s":28,"w":1370,"v":5.385},{"s":28,"w":1395,"v":5.365},{"s":28,"w":1410,"v":5.325},{"s":28,"w":1417,"v":5.29},{"s":28,"w":1430,"v":5.35},{"s":28,"w":1460,"v":5.41},{"s":28,"w":1500,"v":5.45},{"s":28,"w":1600,"v":5.505},{"s":28,"w":1700,"v":5.535},{"s":28,"w":1800,"v":5.54},{"s":28,"w":1860,"v":5.53},{"s":28,"w":1890,"v":5.48},{"s":28,"w":1915,"v":5.41},{"s":28,"w":1940,"v":5.395},{"s":28,"w":1980,"v":5.43},{"s":28,"w":2050,"v":5.5},{"s":28,"w":2130,"v":5.54},{"s":28,"w":2165,"v":5.48},{"s":28,"w":2190,"v":5.39},{"s":28,"w":2208,"v":5.33},{"s":28,"w":2230,"v":5.43},{"s":28,"w":2280,"v":5.44},{"s":28,"w":2350,"v":5.42},{"s":28,"w":2400,"v":5.39},{"s":28,"w":2450,"v":5.33},{"s":28,"w":2500,"v":5.26},
{"s":29,"w":1000,"v":5.1},{"s":29,"w":1100,"v":5.185},{"s":29,"w":1200,"v":5.27},{"s":29,"w":1300,"v":5.34},{"s":29,"w":1370,"v":5.375},{"s":29,"w":1395,"v":5.33},{"s":29,"w":1410,"v":5.27},{"s":29,"w":1417,"v":5.24},{"s":29,"w":1430,"v":5.32},{"s":29,"w":1460,"v":5.39},{"s":29,"w":1500,"v":5.425},{"s":29,"w":1600,"v":5.48},{"s":29,"w":1700,"v":5.512},{"s":29,"w":1800,"v":5.52},{"s":29,"w":1860,"v":5.505},{"s":29,"w":1890,"v":5.44},{"s":29,"w":1915,"v":5.36},{"s":29,"w":1940,"v":5.35},{"s":29,"w":1980,"v":5.39},{"s":29,"w":2050,"v":5.455},{"s":29,"w":2130,"v":5.49},{"s":29,"w":2165,"v":5.41},{"s":29,"w":2190,"v":5.31},{"s":29,"w":2208,"v":5.24},{"s":29,"w":2230,"v":5.36},{"s":29,"w":2280,"v":5.38},{"s":29,"w":2350,"v":5.37},{"s":29,"w":2400,"v":5.33},{"s":29,"w":2450,"v":5.27},{"s":29,"w":2500,"v":5.19},
{"s":30,"w":1000,"v":5.06},{"s":30,"w":1100,"v":5.15},{"s":30,"w":1200,"v":5.24},{"s":30,"w":1300,"v":5.31},{"s":30,"w":1370,"v":5.345},{"s":30,"w":1395,"v":5.325},{"s":30,"w":1410,"v":5.285},{"s":30,"w":1417,"v":5.25},{"s":30,"w":1430,"v":5.31},{"s":30,"w":1460,"v":5.37},{"s":30,"w":1500,"v":5.41},{"s":30,"w":1600,"v":5.465},{"s":30,"w":1700,"v":5.495},{"s":30,"w":1800,"v":5.5},{"s":30,"w":1860,"v":5.49},{"s":30,"w":1890,"v":5.44},{"s":30,"w":1915,"v":5.37},{"s":30,"w":1940,"v":5.355},{"s":30,"w":1980,"v":5.39},{"s":30,"w":2050,"v":5.49},{"s":30,"w":2130,"v":5.53},{"s":30,"w":2165,"v":5.47},{"s":30,"w":2190,"v":5.38},{"s":30,"w":2208,"v":5.32},{"s":30,"w":2230,"v":5.42},{"s":30,"w":2280,"v":5.43},{"s":30,"w":2350,"v":5.41},{"s":30,"w":2400,"v":5.38},{"s":30,"w":2450,"v":5.32},{"s":30,"w":2500,"v":5.25},
{"s":31,"w":1000,"v":5.06},{"s":31,"w":1100,"v":5.145},{"s":31,"w":1200,"v":5.23},{"s":31,"w":1300,"v":5.3},{"s":31,"w":1370,"v":5.335},{"s":31,"w":1395,"v":5.29},{"s":31,"w":1410,"v":5.23},{"s":31,"w":1417,"v":5.2},{"s":31,"w":1430,"v":5.28},{"s":31,"w":1460,"v":5.35},{"s":31,"w":1500,"v":5.385},{"s":31,"w":1600,"v":5.44},{"s":31,"w":1700,"v":5.472},{"s":31,"w":1800,"v":5.48},{"s":31,"w":1860,"v":5.465},{"s":31,"w":1890,"v":5.4},{"s":31,"w":1915,"v":5.32},{"s":31,"w":1940,"v":5.31},{"s":31,"w":1980,"v":5.35},{"s":31,"w":2050,"v":5.425},{"s":31,"w":2130,"v":5.47},{"s":31,"w":2165,"v":5.39},{"s":31,"w":2190,"v":5.29},{"s":31,"w":2208,"v":5.22},{"s":31,"w":2230,"v":5.34},{"s":31,"w":2280,"v":5.36},{"s":31,"w":2350,"v":5.35},{"s":31,"w":2400,"v":5.31},{"s":31,"w":2450,"v":5.25},{"s":31,"w":2500,"v":5.17},
{"s":32,"w":1000,"v":5.02},{"s":32,"w":1100,"v":5.11},{"s":32,"w":1200,"v":5.2},{"s":32,"w":1300,"v":5.27},{"s":32,"w":1370,"v":5.305},{"s":32,"w":1395,"v":5.285},{"s":32,"w":1410,"v":5.245},{"s":32,"w":1417,"v":5.21},{"s":32,"w":1430,"v":5.27},{"s":32,"w":1460,"v":5.33},{"s":32,"w":1500,"v":5.37},{"s":32,"w":1600,"v":5.425},{"s":32,"w":1700,"v":5.455},{"s":32,"w":1800,"v":5.46},{"s":32,"w":1860,"v":5.45},{"s":32,"w":1890,"v":5.4},{"s":32,"w":1915,"v":5.33},{"s":32,"w":1940,"v":5.315},{"s":32,"w":1980,"v":5.35},{"s":32,"w":2050,"v":5.44},{"s":32,"w":2130,"v":5.48},{"s":32,"w":2165,"v":5.42},{"s":32,"w":2190,"v":5.33},{"s":32,"w":2208,"v":5.27},{"s":32,"w":2230,"v":5.37},{"s":32,"w":2280,"v":5.38},{"s":32,"w":2350,"v":5.36},{"s":32,"w":2400,"v":5.33},{"s":32,"w":2450,"v":5.27},{"s":32,"w":2500,"v":5.2},
{"s":33,"w":1000,"v":5.02},{"s":33,"w":1100,"v":5.105},{"s":33,"w":1200,"v":5.19},{"s":33,"w":1300,"v":5.26},{"s":33,"w":1370,"v":5.295},{"s":33,"w":1395,"v":5.25},{"s":33,"w":1410,"v":5.19},{"s":33,"w":1417,"v":5.16},{"s":33,"w":1430,"v":5.24},{"s":33,"w":1460,"v":5.31},{"s":33,"w":1500,"v":5.345},{"s":33,"w":1600,"v":5.4},{"s":33,"w":1700,"v":5.432},{"s":33,"w":1800,"v":5.44},{"s":33,"w":1860,"v":5.425},{"s":33,"w":1890,"v":5.36},{"s":33,"w":1915,"v":5.28},{"s":33,"w":1940,"v":5.27},{"s":33,"w":1980,"v":5.31},{"s":33,"w":2050,"v":5.39},{"s":33,"w":2130,"v":5.44},{"s":33,"w":2165,"v":5.36},{"s":33,"w":2190,"v":5.26},{"s":33,"w":2208,"v":5.19},{"s":33,"w":2230,"v":5.31},{"s":33,"w":2280,"v":5.33},{"s":33,"w":2350,"v":5.32},{"s":33,"w":2400,"v":5.28},{"s":33,"w":2450,"v":5.22},{"s":33,"w":2500,"v":5.14},
{"s":34,"w":1000,"v":5.03},{"s":34,"w":1100,"v":5.11},{"s":34,"w":1200,"v":5.185},{"s":34,"w":1300,"v":5.25},{"s":34,"w":1370,"v":5.28},{"s":34,"w":1395,"v":5.255},{"s":34,"w":1410,"v":5.22},{"s":34,"w":1417,"v":5.185},{"s":34,"w":1430,"v":5.25},{"s":34,"w":1460,"v":5.31},{"s":34,"w":1500,"v":5.34},{"s":34,"w":1600,"v":5.385},{"s":34,"w":1700,"v":5.405},{"s":34,"w":1800,"v":5.41},{"s":34,"w":1860,"v":5.4},{"s":34,"w":1890,"v":5.35},{"s":34,"w":1915,"v":5.29},{"s":34,"w":1940,"v":5.28},{"s":34,"w":1980,"v":5.31},{"s":34,"w":2050,"v":5.37},{"s":34,"w":2130,"v":5.41},{"s":34,"w":2165,"v":5.36},{"s":34,"w":2190,"v":5.28},{"s":34,"w":2208,"v":5.22},{"s":34,"w":2230,"v":5.31},{"s":34,"w":2280,"v":5.32},{"s":34,"w":2350,"v":5.31},{"s":34,"w":2400,"v":5.28},{"s":34,"w":2450,"v":5.22},{"s":34,"w":2500,"v":5.15},
{"s":35,"w":1000,"v":5.005},{"s":35,"w":1100,"v":5.085},{"s":35,"w":1200,"v":5.16},{"s":35,"w":1300,"v":5.225},{"s":35,"w":1370,"v":5.255},{"s":35,"w":1395,"v":5.23},{"s":35,"w":1410,"v":5.195},{"s":35,"w":1417,"v":5.16},{"s":35,"w":1430,"v":5.225},{"s":35,"w":1460,"v":5.285},{"s":35,"w":1500,"v":5.315},{"s":35,"w":1600,"v":5.36},{"s":35,"w":1700,"v":5.38},{"s":35,"w":1800,"v":5.385},{"s":35,"w":1860,"v":5.375},{"s":35,"w":1890,"v":5.325},{"s":35,"w":1915,"v":5.265},{"s":35,"w":1940,"v":5.255},{"s":35,"w":1980,"v":5.285},{"s":35,"w":2050,"v":5.335},{"s":35,"w":2130,"v":5.365},{"s":35,"w":2165,"v":5.315},{"s":35,"w":2190,"v":5.235},{"s":35,"w":2208,"v":5.175},{"s":35,"w":2230,"v":5.265},{"s":35,"w":2280,"v":5.275},{"s":35,"w":2350,"v":5.265},{"s":35,"w":2400,"v":5.235},{"s":35,"w":2450,"v":5.175},{"s":35,"w":2500,"v":5.105},
{"s":36,"w":1000,"v":4.98},{"s":36,"w":1100,"v":5.06},{"s":36,"w":1200,"v":5.135},{"s":36,"w":1300,"v":5.2},{"s":36,"w":1370,"v":5.23},{"s":36,"w":1395,"v":5.205},{"s":36,"w":1410,"v":5.17},{"s":36,"w":1417,"v":5.135},{"s":36,"w":1430,"v":5.2},{"s":36,"w":1460,"v":5.26},{"s":36,"w":1500,"v":5.29},{"s":36,"w":1600,"v":5.335},{"s":36,"w":1700,"v":5.355},{"s":36,"w":1800,"v":5.36},{"s":36,"w":1860,"v":5.35},{"s":36,"w":1890,"v":5.3},{"s":36,"w":1915,"v":5.24},{"s":36,"w":1940,"v":5.23},{"s":36,"w":1980,"v":5.26},{"s":36,"w":2050,"v":5.34},{"s":36,"w":2130,"v":5.38},{"s":36,"w":2165,"v":5.33},{"s":36,"w":2190,"v":5.25},{"s":36,"w":2208,"v":5.19},{"s":36,"w":2230,"v":5.28},{"s":36,"w":2280,"v":5.29},{"s":36,"w":2350,"v":5.28},{"s":36,"w":2400,"v":5.25},{"s":36,"w":2450,"v":5.19},{"s":36,"w":2500,"v":5.12},
{"s":37,"w":1000,"v":4.96},{"s":37,"w":1100,"v":5.04},{"s":37,"w":1200,"v":5.115},{"s":37,"w":1300,"v":5.18},{"s":37,"w":1370,"v":5.21},{"s":37,"w":1395,"v":5.185},{"s":37,"w":1410,"v":5.15},{"s":37,"w":1417,"v":5.115},{"s":37,"w":1430,"v":5.18},{"s":37,"w":1460,"v":5.24},{"s":37,"w":1500,"v":5.27},{"s":37,"w":1600,"v":5.315},{"s":37,"w":1700,"v":5.335},{"s":37,"w":1800,"v":5.34},{"s":37,"w":1860,"v":5.33},{"s":37,"w":1890,"v":5.28},{"s":37,"w":1915,"v":5.22},{"s":37,"w":1940,"v":5.21},{"s":37,"w":1980,"v":5.24},{"s":37,"w":2050,"v":5.285},{"s":37,"w":2130,"v":5.31},{"s":37,"w":2165,"v":5.26},{"s":37,"w":2190,"v":5.18},{"s":37,"w":2208,"v":5.12},{"s":37,"w":2230,"v":5.21},{"s":37,"w":2280,"v":5.22},{"s":37,"w":2350,"v":5.21},{"s":37,"w":2400,"v":5.18},{"s":37,"w":2450,"v":5.12},{"s":37,"w":2500,"v":5.05},
{"s":38,"w":1000,"v":4.9},{"s":38,"w":1100,"v":4.98},{"s":38,"w":1200,"v":5.055},{"s":38,"w":1300,"v":5.12},{"s":38,"w":1370,"v":5.15},{"s":38,"w":1395,"v":5.125},{"s":38,"w":1410,"v":5.09},{"s":38,"w":1417,"v":5.055},{"s":38,"w":1430,"v":5.12},{"s":38,"w":1460,"v":5.18},{"s":38,"w":1500,"v":5.21},{"s":38,"w":1600,"v":5.255},{"s":38,"w":1700,"v":5.275},{"s":38,"w":1800,"v":5.28},{"s":38,"w":1860,"v":5.27},{"s":38,"w":1890,"v":5.22},{"s":38,"w":1915,"v":5.16},{"s":38,"w":1940,"v":5.15},{"s":38,"w":1980,"v":5.18},{"s":38,"w":2050,"v":5.24},{"s":38,"w":2130,"v":5.28},{"s":38,"w":2165,"v":5.23},{"s":38,"w":2190,"v":5.15},{"s":38,"w":2208,"v":5.09},{"s":38,"w":2230,"v":5.18},{"s":38,"w":2280,"v":5.19},{"s":38,"w":2350,"v":5.18},{"s":38,"w":2400,"v":5.15},{"s":38,"w":2450,"v":5.09},{"s":38,"w":2500,"v":5.02},
{"s":39,"w":1000,"v":4.587},{"s":39,"w":1100,"v":4.63},{"s":39,"w":1200,"v":4.672},{"s":39,"w":1300,"v":4.71},{"s":39,"w":1370,"v":4.735},{"s":39,"w":1395,"v":4.726},{"s":39,"w":1410,"v":4.724},{"s":39,"w":1417,"v":4.712},{"s":39,"w":1430,"v":4.737},{"s":39,"w":1460,"v":4.755},{"s":39,"w":1500,"v":4.772},{"s":39,"w":1600,"v":4.795},{"s":39,"w":1700,"v":4.81},{"s":39,"w":1800,"v":4.806},{"s":39,"w":1860,"v":4.8},{"s":39,"w":1890,"v":4.787},{"s":39,"w":1915,"v":4.772},{"s":39,"w":1940,"v":4.772},{"s":39,"w":1980,"v":4.778},{"s":39,"w":2050,"v":4.797},{"s":39,"w":2130,"v":4.827},{"s":39,"w":2165,"v":4.777},{"s":39,"w":2190,"v":4.737},{"s":39,"w":2208,"v":4.687},{"s":39,"w":2230,"v":4.727},{"s":39,"w":2280,"v":4.732},{"s":39,"w":2350,"v":4.742},{"s":39,"w":2400,"v":4.727},{"s":39,"w":2450,"v":4.695},{"s":39,"w":2500,"v":4.645},
{"s":40,"w":1000,"v":4.8},{"s":40,"w":1100,"v":4.85},{"s":40,"w":1200,"v":4.91},{"s":40,"w":1300,"v":4.965},{"s":40,"w":1370,"v":5.0},{"s":40,"w":1395,"v":4.995},{"s":40,"w":1410,"v":4.99},{"s":40,"w":1417,"v":4.984},{"s":40,"w":1430,"v":5.02},{"s":40,"w":1460,"v":5.045},{"s":40,"w":1500,"v":5.07},{"s":40,"w":1600,"v":5.105},{"s":40,"w":1700,"v":5.124},{"s":40,"w":1800,"v":5.13},{"s":40,"w":1860,"v":5.128},{"s":40,"w":1890,"v":5.11},{"s":40,"w":1915,"v":5.09},{"s":40,"w":1940,"v":5.092},{"s":40,"w":1980,"v":5.12},{"s":40,"w":2050,"v":5.155},{"s":40,"w":2130,"v":5.179},{"s":40,"w":2150,"v":5.14},{"s":40,"w":2167,"v":5.04},{"s":40,"w":2183,"v":4.99},{"s":40,"w":2195,"v":4.93},{"s":40,"w":2208,"v":4.845},{"s":40,"w":2218,"v":4.92},{"s":40,"w":2232,"v":5.004},{"s":40,"w":2271,"v":4.954},{"s":40,"w":2287,"v":4.957},{"s":40,"w":2317,"v":4.932},{"s":40,"w":2335,"v":4.932},{"s":40,"w":2356,"v":4.904},{"s":40,"w":2387,"v":4.87},{"s":40,"w":2405,"v":4.877},{"s":40,"w":2423,"v":4.857},{"s":40,"w":2448,"v":4.787},{"s":40,"w":2500,"v":4.68},
{"s":41,"w":1000,"v":4.82},{"s":41,"w":1100,"v":4.88},{"s":41,"w":1200,"v":4.95},{"s":41,"w":1300,"v":5.02},{"s":41,"w":1370,"v":5.06},{"s":41,"w":1395,"v":5.045},{"s":41,"w":1410,"v":5.02},{"s":41,"w":1417,"v":5.0},{"s":41,"w":1430,"v":5.05},{"s":41,"w":1460,"v":5.1},{"s":41,"w":1500,"v":5.135},{"s":41,"w":1600,"v":5.19},{"s":41,"w":1700,"v":5.22},{"s":41,"w":1800,"v":5.235},{"s":41,"w":1860,"v":5.225},{"s":41,"w":1890,"v":5.19},{"s":41,"w":1915,"v":5.12},{"s":41,"w":1940,"v":5.058},{"s":41,"w":1965,"v":5.08},{"s":41,"w":2000,"v":5.15},{"s":41,"w":2050,"v":5.185},{"s":41,"w":2130,"v":5.195},{"s":41,"w":2165,"v":5.16},{"s":41,"w":2190,"v":5.08},{"s":41,"w":2208,"v":5.02},{"s":41,"w":2230,"v":5.07},{"s":41,"w":2280,"v":5.08},{"s":41,"w":2350,"v":5.08},{"s":41,"w":2400,"v":5.06},{"s":41,"w":2450,"v":5.02},{"s":41,"w":2500,"v":4.955},
{"s":42,"w":1000,"v":4.845},{"s":42,"w":1100,"v":4.92},{"s":42,"w":1200,"v":5.0},{"s":42,"w":1300,"v":5.07},{"s":42,"w":1370,"v":5.11},{"s":42,"w":1395,"v":5.09},{"s":42,"w":1410,"v":5.06},{"s":42,"w":1417,"v":5.035},{"s":42,"w":1430,"v":5.09},{"s":42,"w":1460,"v":5.15},{"s":42,"w":1500,"v":5.19},{"s":42,"w":1600,"v":5.25},{"s":42,"w":1700,"v":5.28},{"s":42,"w":1800,"v":5.29},{"s":42,"w":1860,"v":5.28},{"s":42,"w":1890,"v":5.25},{"s":42,"w":1915,"v":5.2},{"s":42,"w":1940,"v":5.19},{"s":42,"w":1980,"v":5.2},{"s":42,"w":2050,"v":5.215},{"s":42,"w":2130,"v":5.225},{"s":42,"w":2165,"v":5.19},{"s":42,"w":2190,"v":5.14},{"s":42,"w":2208,"v":5.11},{"s":42,"w":2230,"v":5.135},{"s":42,"w":2280,"v":5.13},{"s":42,"w":2350,"v":5.11},{"s":42,"w":2400,"v":5.09},{"s":42,"w":2450,"v":5.06},{"s":42,"w":2500,"v":5.03},
{"s":43,"w":1000,"v":5.315},{"s":43,"w":1100,"v":5.395},{"s":43,"w":1200,"v":5.475},{"s":43,"w":1300,"v":5.54},{"s":43,"w":1370,"v":5.575},{"s":43,"w":1395,"v":5.555},{"s":43,"w":1410,"v":5.515},{"s":43,"w":1417,"v":5.485},{"s":43,"w":1430,"v":5.545},{"s":43,"w":1460,"v":5.6},{"s":43,"w":1500,"v":5.635},{"s":43,"w":1600,"v":5.685},{"s":43,"w":1700,"v":5.711},{"s":43,"w":1800,"v":5.715},{"s":43,"w":1860,"v":5.707},{"s":43,"w":1890,"v":5.665},{"s":43,"w":1915,"v":5.6},{"s":43,"w":1940,"v":5.585},{"s":43,"w":1980,"v":5.62},{"s":43,"w":2050,"v":5.68},{"s":43,"w":2130,"v":5.725},{"s":43,"w":2165,"v":5.675},{"s":43,"w":2190,"v":5.595},{"s":43,"w":2208,"v":5.54},{"s":43,"w":2230,"v":5.625},{"s":43,"w":2280,"v":5.63},{"s":43,"w":2350,"v":5.615},{"s":43,"w":2400,"v":5.58},{"s":43,"w":2450,"v":5.515},{"s":43,"w":2500,"v":5.445},
{"s":44,"w":1000,"v":5.225},{"s":44,"w":1100,"v":5.325},{"s":44,"w":1200,"v":5.425},{"s":44,"w":1300,"v":5.5},{"s":44,"w":1370,"v":5.535},{"s":44,"w":1395,"v":5.495},{"s":44,"w":1410,"v":5.435},{"s":44,"w":1417,"v":5.395},{"s":44,"w":1430,"v":5.485},{"s":44,"w":1460,"v":5.56},{"s":44,"w":1500,"v":5.6},{"s":44,"w":1600,"v":5.655},{"s":44,"w":1700,"v":5.689},{"s":44,"w":1800,"v":5.695},{"s":44,"w":1860,"v":5.683},{"s":44,"w":1890,"v":5.625},{"s":44,"w":1915,"v":5.545},{"s":44,"w":1940,"v":5.535},{"s":44,"w":1980,"v":5.575},{"s":44,"w":2050,"v":5.655},{"s":44,"w":2130,"v":5.7},{"s":44,"w":2165,"v":5.63},{"s":44,"w":2190,"v":5.535},{"s":44,"w":2208,"v":5.475},{"s":44,"w":2230,"v":5.585},{"s":44,"w":2280,"v":5.6},{"s":44,"w":2350,"v":5.59},{"s":44,"w":2400,"v":5.555},{"s":44,"w":2450,"v":5.505},{"s":44,"w":2500,"v":5.445},
{"s":45,"w":1000,"v":5.275},{"s":45,"w":1100,"v":5.355},{"s":45,"w":1200,"v":5.435},{"s":45,"w":1300,"v":5.5},{"s":45,"w":1370,"v":5.535},{"s":45,"w":1395,"v":5.515},{"s":45,"w":1410,"v":5.475},{"s":45,"w":1417,"v":5.445},{"s":45,"w":1430,"v":5.505},{"s":45,"w":1460,"v":5.56},{"s":45,"w":1500,"v":5.595},{"s":45,"w":1600,"v":5.645},{"s":45,"w":1700,"v":5.671},{"s":45,"w":1800,"v":5.675},{"s":45,"w":1860,"v":5.667},{"s":45,"w":1890,"v":5.625},{"s":45,"w":1915,"v":5.56},{"s":45,"w":1940,"v":5.545},{"s":45,"w":1980,"v":5.58},{"s":45,"w":2050,"v":5.63},{"s":45,"w":2130,"v":5.665},{"s":45,"w":2165,"v":5.615},{"s":45,"w":2190,"v":5.535},{"s":45,"w":2208,"v":5.48},{"s":45,"w":2230,"v":5.565},{"s":45,"w":2280,"v":5.57},{"s":45,"w":2350,"v":5.555},{"s":45,"w":2400,"v":5.52},{"s":45,"w":2450,"v":5.455},{"s":45,"w":2500,"v":5.385},
{"s":46,"w":1000,"v":5.185},{"s":46,"w":1100,"v":5.285},{"s":46,"w":1200,"v":5.385},{"s":46,"w":1300,"v":5.46},{"s":46,"w":1370,"v":5.495},{"s":46,"w":1395,"v":5.455},{"s":46,"w":1410,"v":5.395},{"s":46,"w":1417,"v":5.355},{"s":46,"w":1430,"v":5.445},{"s":46,"w":1460,"v":5.52},{"s":46,"w":1500,"v":5.56},{"s":46,"w":1600,"v":5.615},{"s":46,"w":1700,"v":5.649},{"s":46,"w":1800,"v":5.655},{"s":46,"w":1860,"v":5.643},{"s":46,"w":1890,"v":5.585},{"s":46,"w":1915,"v":5.505},{"s":46,"w":1940,"v":5.495},{"s":46,"w":1980,"v":5.535},{"s":46,"w":2050,"v":5.62},{"s":46,"w":2130,"v":5.67},{"s":46,"w":2165,"v":5.6},{"s":46,"w":2190,"v":5.505},{"s":46,"w":2208,"v":5.445},{"s":46,"w":2230,"v":5.555},{"s":46,"w":2280,"v":5.57},{"s":46,"w":2350,"v":5.56},{"s":46,"w":2400,"v":5.525},{"s":46,"w":2450,"v":5.475},{"s":46,"w":2500,"v":5.415},
{"s":47,"w":1000,"v":5.235},{"s":47,"w":1100,"v":5.315},{"s":47,"w":1200,"v":5.395},{"s":47,"w":1300,"v":5.46},{"s":47,"w":1370,"v":5.495},{"s":47,"w":1395,"v":5.475},{"s":47,"w":1410,"v":5.435},{"s":47,"w":1417,"v":5.405},{"s":47,"w":1430,"v":5.465},{"s":47,"w":1460,"v":5.52},{"s":47,"w":1500,"v":5.555},{"s":47,"w":1600,"v":5.605},{"s":47,"w":1700,"v":5.631},{"s":47,"w":1800,"v":5.635},{"s":47,"w":1860,"v":5.627},{"s":47,"w":1890,"v":5.585},{"s":47,"w":1915,"v":5.52},{"s":47,"w":1940,"v":5.505},{"s":47,"w":1980,"v":5.54},{"s":47,"w":2050,"v":5.625},{"s":47,"w":2130,"v":5.695},{"s":47,"w":2165,"v":5.645},{"s":47,"w":2190,"v":5.565},{"s":47,"w":2208,"v":5.51},{"s":47,"w":2230,"v":5.595},{"s":47,"w":2280,"v":5.6},{"s":47,"w":2350,"v":5.585},{"s":47,"w":2400,"v":5.55},{"s":47,"w":2450,"v":5.485},{"s":47,"w":2500,"v":5.415},
{"s":48,"w":1000,"v":5.145},{"s":48,"w":1100,"v":5.245},{"s":48,"w":1200,"v":5.345},{"s":48,"w":1300,"v":5.42},{"s":48,"w":1370,"v":5.455},{"s":48,"w":1395,"v":5.415},{"s":48,"w":1410,"v":5.355},{"s":48,"w":1417,"v":5.315},{"s":48,"w":1430,"v":5.405},{"s":48,"w":1460,"v":5.48},{"s":48,"w":1500,"v":5.52},{"s":48,"w":1600,"v":5.575},{"s":48,"w":1700,"v":5.609},{"s":48,"w":1800,"v":5.615},{"s":48,"w":1860,"v":5.603},{"s":48,"w":1890,"v":5.545},{"s":48,"w":1915,"v":5.465},{"s":48,"w":1940,"v":5.455},{"s":48,"w":1980,"v":5.495},{"s":48,"w":2050,"v":5.565},{"s":48,"w":2130,"v":5.6},{"s":48,"w":2165,"v":5.53},{"s":48,"w":2190,"v":5.435},{"s":48,"w":2208,"v":5.375},{"s":48,"w":2230,"v":5.485},{"s":48,"w":2280,"v":5.5},{"s":48,"w":2350,"v":5.49},{"s":48,"w":2400,"v":5.455},{"s":48,"w":2450,"v":5.405},{"s":48,"w":2500,"v":5.345},
{"s":49,"w":1000,"v":5.205},{"s":49,"w":1100,"v":5.285},{"s":49,"w":1200,"v":5.365},{"s":49,"w":1300,"v":5.43},{"s":49,"w":1370,"v":5.465},{"s":49,"w":1395,"v":5.445},{"s":49,"w":1410,"v":5.405},{"s":49,"w":1417,"v":5.375},{"s":49,"w":1430,"v":5.435},{"s":49,"w":1460,"v":5.49},{"s":49,"w":1500,"v":5.525},{"s":49,"w":1600,"v":5.575},{"s":49,"w":1700,"v":5.601},{"s":49,"w":1800,"v":5.605},{"s":49,"w":1860,"v":5.597},{"s":49,"w":1890,"v":5.555},{"s":49,"w":1915,"v":5.49},{"s":49,"w":1940,"v":5.475},{"s":49,"w":1980,"v":5.51},{"s":49,"w":2050,"v":5.555},{"s":49,"w":2130,"v":5.585},{"s":49,"w":2165,"v":5.535},{"s":49,"w":2190,"v":5.455},{"s":49,"w":2208,"v":5.4},{"s":49,"w":2230,"v":5.485},{"s":49,"w":2280,"v":5.49},{"s":49,"w":2350,"v":5.475},{"s":49,"w":2400,"v":5.44},{"s":49,"w":2450,"v":5.375},{"s":49,"w":2500,"v":5.305},
{"s":50,"w":1000,"v":5.11},{"s":50,"w":1100,"v":5.21},{"s":50,"w":1200,"v":5.31},{"s":50,"w":1300,"v":5.385},{"s":50,"w":1370,"v":5.42},{"s":50,"w":1395,"v":5.38},{"s":50,"w":1410,"v":5.32},{"s":50,"w":1417,"v":5.28},{"s":50,"w":1430,"v":5.37},{"s":50,"w":1460,"v":5.445},{"s":50,"w":1500,"v":5.485},{"s":50,"w":1600,"v":5.54},{"s":50,"w":1700,"v":5.574},{"s":50,"w":1800,"v":5.58},{"s":50,"w":1860,"v":5.568},{"s":50,"w":1890,"v":5.51},{"s":50,"w":1915,"v":5.43},{"s":50,"w":1940,"v":5.42},{"s":50,"w":1980,"v":5.46},{"s":50,"w":2050,"v":5.54},{"s":50,"w":2130,"v":5.585},{"s":50,"w":2165,"v":5.515},{"s":50,"w":2190,"v":5.42},{"s":50,"w":2208,"v":5.36},{"s":50,"w":2230,"v":5.47},{"s":50,"w":2280,"v":5.485},{"s":50,"w":2350,"v":5.475},{"s":50,"w":2400,"v":5.44},{"s":50,"w":2450,"v":5.39},{"s":50,"w":2500,"v":5.33},
{"s":51,"w":1000,"v":5.155},{"s":51,"w":1100,"v":5.235},{"s":51,"w":1200,"v":5.315},{"s":51,"w":1300,"v":5.38},{"s":51,"w":1370,"v":5.415},{"s":51,"w":1395,"v":5.395},{"s":51,"w":1410,"v":5.355},{"s":51,"w":1417,"v":5.325},{"s":51,"w":1430,"v":5.385},{"s":51,"w":1460,"v":5.44},{"s":51,"w":1500,"v":5.475},{"s":51,"w":1600,"v":5.525},{"s":51,"w":1700,"v":5.551},{"s":51,"w":1800,"v":5.555},{"s":51,"w":1860,"v":5.547},{"s":51,"w":1890,"v":5.505},{"s":51,"w":1915,"v":5.44},{"s":51,"w":1940,"v":5.425},{"s":51,"w":1980,"v":5.46},{"s":51,"w":2050,"v":5.515},{"s":51,"w":2130,"v":5.555},{"s":51,"w":2165,"v":5.505},{"s":51,"w":2190,"v":5.425},{"s":51,"w":2208,"v":5.37},{"s":51,"w":2230,"v":5.455},{"s":51,"w":2280,"v":5.46},{"s":51,"w":2350,"v":5.445},{"s":51,"w":2400,"v":5.41},{"s":51,"w":2450,"v":5.345},{"s":51,"w":2500,"v":5.275},
{"s":52,"w":1000,"v":5.06},{"s":52,"w":1100,"v":5.16},{"s":52,"w":1200,"v":5.26},{"s":52,"w":1300,"v":5.335},{"s":52,"w":1370,"v":5.37},{"s":52,"w":1395,"v":5.33},{"s":52,"w":1410,"v":5.27},{"s":52,"w":1417,"v":5.23},{"s":52,"w":1430,"v":5.32},{"s":52,"w":1460,"v":5.395},{"s":52,"w":1500,"v":5.435},{"s":52,"w":1600,"v":5.49},{"s":52,"w":1700,"v":5.524},{"s":52,"w":1800,"v":5.53},{"s":52,"w":1860,"v":5.518},{"s":52,"w":1890,"v":5.46},{"s":52,"w":1915,"v":5.38},{"s":52,"w":1940,"v":5.37},{"s":52,"w":1980,"v":5.41},{"s":52,"w":2050,"v":5.505},{"s":52,"w":2130,"v":5.565},{"s":52,"w":2165,"v":5.495},{"s":52,"w":2190,"v":5.4},{"s":52,"w":2208,"v":5.34},{"s":52,"w":2230,"v":5.45},{"s":52,"w":2280,"v":5.465},{"s":52,"w":2350,"v":5.455},{"s":52,"w":2400,"v":5.42},{"s":52,"w":2450,"v":5.37},{"s":52,"w":2500,"v":5.31},
{"s":53,"w":1000,"v":5.11},{"s":53,"w":1100,"v":5.19},{"s":53,"w":1200,"v":5.27},{"s":53,"w":1300,"v":5.335},{"s":53,"w":1370,"v":5.37},{"s":53,"w":1395,"v":5.35},{"s":53,"w":1410,"v":5.31},{"s":53,"w":1417,"v":5.28},{"s":53,"w":1430,"v":5.34},{"s":53,"w":1460,"v":5.395},{"s":53,"w":1500,"v":5.43},{"s":53,"w":1600,"v":5.48},{"s":53,"w":1700,"v":5.506},{"s":53,"w":1800,"v":5.51},{"s":53,"w":1860,"v":5.502},{"s":53,"w":1890,"v":5.46},{"s":53,"w":1915,"v":5.395},{"s":53,"w":1940,"v":5.38},{"s":53,"w":1980,"v":5.415},{"s":53,"w":2050,"v":5.475},{"s":53,"w":2130,"v":5.52},{"s":53,"w":2165,"v":5.47},{"s":53,"w":2190,"v":5.39},{"s":53,"w":2208,"v":5.335},{"s":53,"w":2230,"v":5.42},{"s":53,"w":2280,"v":5.425},{"s":53,"w":2350,"v":5.41},{"s":53,"w":2400,"v":5.375},{"s":53,"w":2450,"v":5.31},{"s":53,"w":2500,"v":5.24},
{"s":54,"w":1000,"v":5.02},{"s":54,"w":1100,"v":5.12},{"s":54,"w":1200,"v":5.22},{"s":54,"w":1300,"v":5.295},{"s":54,"w":1370,"v":5.33},{"s":54,"w":1395,"v":5.29},{"s":54,"w":1410,"v":5.23},{"s":54,"w":1417,"v":5.19},{"s":54,"w":1430,"v":5.28},{"s":54,"w":1460,"v":5.355},{"s":54,"w":1500,"v":5.395},{"s":54,"w":1600,"v":5.45},{"s":54,"w":1700,"v":5.484},{"s":54,"w":1800,"v":5.49},{"s":54,"w":1860,"v":5.478},{"s":54,"w":1890,"v":5.42},{"s":54,"w":1915,"v":5.34},{"s":54,"w":1940,"v":5.33},{"s":54,"w":1980,"v":5.37},{"s":54,"w":2050,"v":5.435},{"s":54,"w":2130,"v":5.465},{"s":54,"w":2165,"v":5.395},{"s":54,"w":2190,"v":5.3},{"s":54,"w":2208,"v":5.24},{"s":54,"w":2230,"v":5.35},{"s":54,"w":2280,"v":5.365},{"s":54,"w":2350,"v":5.355},{"s":54,"w":2400,"v":5.32},{"s":54,"w":2450,"v":5.27},{"s":54,"w":2500,"v":5.21},
{"s":55,"w":1000,"v":5.07},{"s":55,"w":1100,"v":5.15},{"s":55,"w":1200,"v":5.23},{"s":55,"w":1300,"v":5.295},{"s":55,"w":1370,"v":5.33},{"s":55,"w":1395,"v":5.31},{"s":55,"w":1410,"v":5.27},{"s":55,"w":1417,"v":5.24},{"s":55,"w":1430,"v":5.3},{"s":55,"w":1460,"v":5.355},{"s":55,"w":1500,"v":5.39},{"s":55,"w":1600,"v":5.44},{"s":55,"w":1700,"v":5.466},{"s":55,"w":1800,"v":5.47},{"s":55,"w":1860,"v":5.462},{"s":55,"w":1890,"v":5.42},{"s":55,"w":1915,"v":5.355},{"s":55,"w":1940,"v":5.34},{"s":55,"w":1980,"v":5.375},{"s":55,"w":2050,"v":5.44},{"s":55,"w":2130,"v":5.49},{"s":55,"w":2165,"v":5.44},{"s":55,"w":2190,"v":5.36},{"s":55,"w":2208,"v":5.305},{"s":55,"w":2230,"v":5.39},{"s":55,"w":2280,"v":5.395},{"s":55,"w":2350,"v":5.38},{"s":55,"w":2400,"v":5.345},{"s":55,"w":2450,"v":5.28},{"s":55,"w":2500,"v":5.21},
{"s":56,"w":1000,"v":4.98},{"s":56,"w":1100,"v":5.08},{"s":56,"w":1200,"v":5.18},{"s":56,"w":1300,"v":5.255},{"s":56,"w":1370,"v":5.29},{"s":56,"w":1395,"v":5.25},{"s":56,"w":1410,"v":5.19},{"s":56,"w":1417,"v":5.15},{"s":56,"w":1430,"v":5.24},{"s":56,"w":1460,"v":5.315},{"s":56,"w":1500,"v":5.355},{"s":56,"w":1600,"v":5.41},{"s":56,"w":1700,"v":5.444},{"s":56,"w":1800,"v":5.45},{"s":56,"w":1860,"v":5.438},{"s":56,"w":1890,"v":5.38},{"s":56,"w":1915,"v":5.3},{"s":56,"w":1940,"v":5.29},{"s":56,"w":1980,"v":5.33},{"s":56,"w":2050,"v":5.4},{"s":56,"w":2130,"v":5.435},{"s":56,"w":2165,"v":5.365},{"s":56,"w":2190,"v":5.27},{"s":56,"w":2208,"v":5.21},{"s":56,"w":2230,"v":5.32},{"s":56,"w":2280,"v":5.335},{"s":56,"w":2350,"v":5.325},{"s":56,"w":2400,"v":5.29},{"s":56,"w":2450,"v":5.24},{"s":56,"w":2500,"v":5.18}
]},
"config": {
  "view": {"stroke": "#8c8c8c", "strokeWidth": 1},
  "font": "Liberation Serif",
  "axis": {"domain": false, "grid": true, "gridColor": "#e4e4e4", "gridWidth": 1, "tickColor": "#8c8c8c", "tickSize": -10, "labelFont": "Liberation Serif", "labelFontSize": 33, "labelColor": "#262626", "titleFont": "Liberation Serif", "titleFontSize": 36, "titleFontWeight": "normal", "titleColor": "#262626", "labelFlush": false, "labelBound": false, "labelOverlap": false}
},
"resolve": {"axis": {"x": "independent", "y": "independent"}},
"layer": [
  {
    "data": {"name": "spectra"},
    "mark": {"type": "line", "interpolate": "monotone", "strokeWidth": 1, "color": "#0000ff", "opacity": 0.72, "clip": true},
    "encoding": {
      "x": {"field": "w", "type": "quantitative", "scale": {"domain": [1000, 2500], "nice": false, "zero": false},
            "axis": {"values": [1000, 1250, 1500, 1750, 2000, 2250, 2500], "format": "d", "labelPadding": 24, "title": "Wavelength (nm)", "titleBaseline": "alphabetic", "titleY": 77}},
      "y": {"field": "v", "type": "quantitative", "scale": {"domain": [4.5, 6], "nice": false, "zero": false},
            "axis": {"values": [4.5, 5, 5.5, 6], "format": "~g", "labelPadding": 21, "title": "Log (1/R)", "titleBaseline": "alphabetic", "titleX": -62}},
      "detail": {"field": "s", "type": "nominal"}
    }
  },
  {
    "data": {"name": "spectra"},
    "mark": {"type": "line", "opacity": 0, "clip": true},
    "encoding": {
      "x": {"field": "w", "type": "quantitative", "scale": {"domain": [1000, 2500], "nice": false, "zero": false},
            "axis": {"orient": "top", "values": [1000, 1250, 1500, 1750, 2000, 2250, 2500], "labels": false, "grid": false, "title": null}},
      "y": {"field": "v", "type": "quantitative", "scale": {"domain": [4.5, 6], "nice": false, "zero": false},
            "axis": {"orient": "right", "values": [4.5, 5, 5.5, 6], "labels": false, "grid": false, "title": null}},
      "detail": {"field": "s", "type": "nominal"}
    }
  }
]
}
